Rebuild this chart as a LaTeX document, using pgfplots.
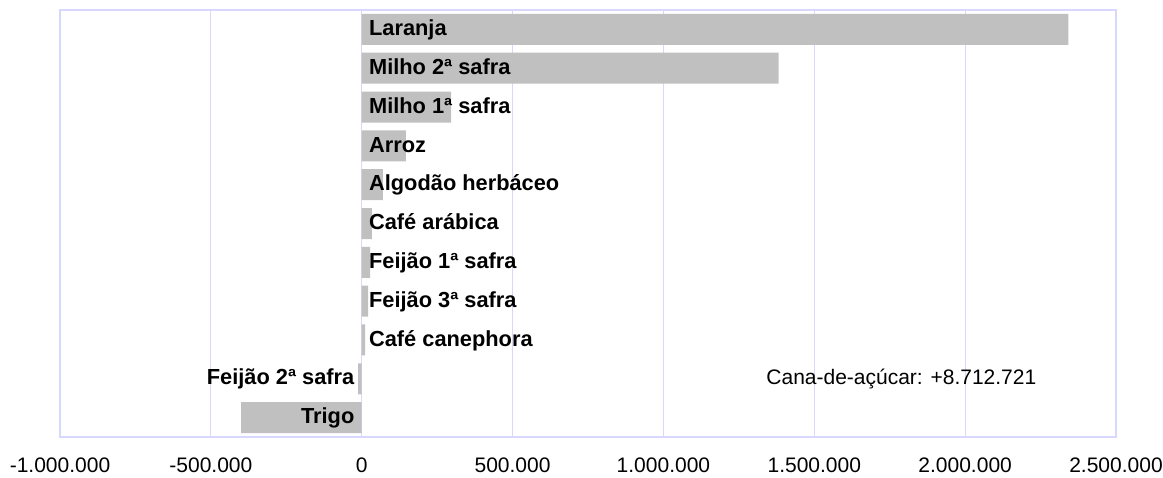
\documentclass[border=0pt]{standalone}
\usepackage{fontspec}
\setmainfont{Liberation Sans}
\usepackage{pgfplots}
\usepackage{pgfplotstable}
\pgfplotsset{compat=1.18}
\definecolor{barc}{HTML}{C0C0C0}
\definecolor{gridc}{RGB}{216,216,255}

\pgfplotstableread[col sep=comma]{
y,value,label
10,2342000,Laranja
9,1382000,Milho 2ª safra
8,296000,Milho 1ª safra
7,146000,Arroz
6,70500,Algodão herbáceo
5,34000,Café arábica
4,27500,Feijão 1ª safra
3,21000,Feijão 3ª safra
2,11000,Café canephora
1,-12000,Feijão 2ª safra
0,-400000,Trigo
}\datatab

\begin{document}
\begin{tikzpicture}
\begin{axis}[
  scale only axis, width=528pt, height=213.5pt,
  xmin=-1000000, xmax=2500000, ymin=-0.5, ymax=10.5,
  xtick={-1000000,-500000,0,500000,1000000,1500000,2000000,2500000},
  xticklabels={-1.000.000,-500.000,0,500.000,1.000.000,1.500.000,2.000.000,2.500.000},
  scaled x ticks=false,
  ytick=\empty,
  xmajorgrids,
  major grid style={draw=gridc, line width=0.5pt},
  axis line style={draw=gridc, line width=0.6pt},
  major tick length=0pt,
  xticklabel style={font=\fontsize{10.5}{12}\selectfont, yshift=-7pt},
  clip=false,
]
\addplot[xbar, fill=barc, draw=none, bar width=15.5pt] table[x=value, y=y] {\datatab};
\addplot[only marks, mark=none, nodes near coords, point meta=explicit symbolic,
  nodes near coords style={anchor=west, font=\fontsize{10.9}{12}\selectfont\bfseries, inner sep=3.5pt, text=black, text height=0.72em, text depth=0.1em},
  restrict y to domain=1.5:10.5] table[x expr=0, y=y, meta=label] {\datatab};
\addplot[only marks, mark=none, nodes near coords, point meta=explicit symbolic,
  nodes near coords style={anchor=east, font=\fontsize{10.9}{12}\selectfont\bfseries, inner sep=3.5pt, text=black, text height=0.72em, text depth=0.1em},
  restrict y to domain=-0.5:1.5] table[x expr=0, y=y, meta=label] {\datatab};
\node[anchor=west, font=\fontsize{10.5}{12}\selectfont, inner sep=0pt, text height=0.72em, text depth=0.1em] at (axis cs:1340000,1) {Cana-de-açúcar: +8.712.721};
\end{axis}
\pgfresetboundingbox
\path ([xshift=-30pt,yshift=5pt]current axis.north west) rectangle ([xshift=23.5pt,yshift=-20pt]current axis.south east);
\end{tikzpicture}
\end{document}
